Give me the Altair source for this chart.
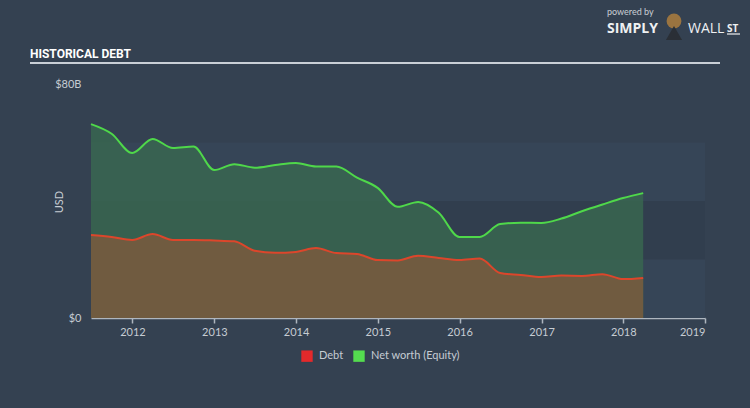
import altair as alt
import pandas as pd

# ---------------- data ----------------
dates = ["2011-06-30", "2011-09-30", "2011-12-31", "2012-03-31", "2012-06-30", "2012-09-30",
         "2012-12-31", "2013-03-31", "2013-06-30", "2013-09-30", "2013-12-31", "2014-03-31",
         "2014-06-30", "2014-09-30", "2014-12-31", "2015-03-31", "2015-06-30", "2015-09-30",
         "2015-12-31", "2016-03-31", "2016-06-30", "2016-09-30", "2016-12-31", "2017-03-31",
         "2017-06-30", "2017-09-30", "2017-12-31", "2018-03-31"]
net_worth = [66.3, 63.0, 56.4, 61.2, 58.1, 58.6, 50.6, 52.6, 51.4, 52.3, 53.0, 51.8,
             51.8, 48.0, 44.5, 38.0, 39.7, 36.0, 27.7, 27.7, 32.1, 32.6, 32.5, 34.0,
             36.5, 38.8, 41.0, 42.7]
debt = [28.4, 27.7, 26.7, 28.7, 26.7, 26.7, 26.5, 26.2, 23.0, 22.3, 22.6, 23.9,
        22.2, 21.9, 19.8, 19.7, 21.3, 20.5, 19.8, 20.3, 15.4, 14.7, 14.0, 14.5,
        14.4, 15.0, 13.3, 13.7]
series_names = ["Debt", "Net worth (Equity)"]
light_band_lo = [0, 40]
light_band_hi = [20, 60]
dark_band_lo = [20]
dark_band_hi = [40]
y_tick_values = [0, 80]
x_tick_years = [2012, 2013, 2014, 2015, 2016, 2017, 2018, 2019]
title_text = ["HISTORICAL DEBT"]
y_title_text = ["USD"]
powered_text = ["powered by"]
simply_text = ["SIMPLY"]
wall_text = ["WALL"]
st_text = ["ST"]

# ---------------- styling ----------------
BG = "#344151"
LIGHT_BAND = "#364557"
DARK_BAND = "#313e4e"
GREEN_LINE = "#4fd84a"
GREEN_FILL = "#386650"
RED_LINE = "#dc462b"
DEBT_FILL = "#705b40"
LEG_RED = "#e4292b"
LEG_GREEN = "#54dc4f"
TXT = "#c6ccd3"
FONT = "Lato"
TITLE_FONT = "Roboto"
W, H = 614, 234

df = pd.DataFrame({"date": dates, "networth": net_worth, "debt": debt})
long_df = pd.DataFrame({
    "date": dates + dates,
    "series": [series_names[0]] * len(dates) + [series_names[1]] * len(dates),
    "value": debt + net_worth,
})
light_bands = pd.DataFrame({"lo": light_band_lo, "hi": light_band_hi})
dark_bands = pd.DataFrame({"lo": dark_band_lo, "hi": dark_band_hi})

x_scale = alt.Scale(
    type="utc",
    domain=[alt.DateTime(year=2011, month=6, date=30, utc=True),
            alt.DateTime(year=2019, month=1, date=1, utc=True)],
    nice=False,
)
y_scale = alt.Scale(domain=[0, 80], nice=False)

x_axis = alt.Axis(
    values=[alt.DateTime(year=yy, month=1, date=1, utc=True) for yy in x_tick_years],
    labelExpr="utcFormat(datum.value, '%Y')",
    title=None, grid=False, domainColor="#aeb6bf", domainWidth=1.5,
    tickColor="#aeb6bf", tickSize=5, tickWidth=1.5, labelColor=TXT, labelFontSize=11,
    labelFont=FONT, labelPadding=3,
)
y_axis = alt.Axis(
    values=y_tick_values,
    labelExpr="datum.value == 0 ? '$0' : '$' + datum.value + 'B'",
    title=None, grid=False, domain=False, ticks=False, labelColor=TXT,
    labelFontSize=11, labelFont=FONT, labelPadding=10,
)

dark = alt.Chart(dark_bands).mark_rect(color=DARK_BAND).encode(
    y=alt.Y("lo:Q", scale=y_scale, axis=y_axis), y2="hi:Q",
    x=alt.value(0), x2=alt.value(W))
light = alt.Chart(light_bands).mark_rect(color=LIGHT_BAND).encode(
    y=alt.Y("lo:Q", scale=y_scale, axis=y_axis), y2="hi:Q",
    x=alt.value(0), x2=alt.value(W))

green_area = alt.Chart(df).mark_area(
    interpolate="monotone", color=GREEN_FILL, opacity=0.85
).encode(
    x=alt.X("date:T", scale=x_scale, axis=x_axis),
    y=alt.Y("networth:Q", scale=y_scale, axis=y_axis),
)
green_line = alt.Chart(df).mark_line(
    interpolate="monotone", color=GREEN_LINE, strokeWidth=2
).encode(x=alt.X("date:T", scale=x_scale, axis=x_axis),
         y=alt.Y("networth:Q", scale=y_scale, axis=y_axis))

debt_area = alt.Chart(df).mark_area(
    interpolate="monotone", color=DEBT_FILL, opacity=1
).encode(x=alt.X("date:T", scale=x_scale, axis=x_axis),
         y=alt.Y("debt:Q", scale=y_scale, axis=y_axis))
debt_line = alt.Chart(df).mark_line(
    interpolate="monotone", color=RED_LINE, strokeWidth=2
).encode(x=alt.X("date:T", scale=x_scale, axis=x_axis),
         y=alt.Y("debt:Q", scale=y_scale, axis=y_axis))

legend_layer = alt.Chart(long_df).transform_filter("datum.value < 0").mark_square(
    filled=True, opacity=1
).encode(
    x=alt.X("date:T", scale=x_scale, axis=x_axis),
    y=alt.Y("value:Q", scale=y_scale, axis=y_axis),
    color=alt.Color(
        "series:N",
        scale=alt.Scale(domain=series_names, range=[LEG_RED, LEG_GREEN]),
        legend=alt.Legend(
            orient="none", legendX=210, legendY=266, direction="horizontal",
            title=None, symbolType="square", symbolSize=130, symbolStrokeWidth=0,
            symbolOpacity=1, labelFontSize=11, labelFont=FONT, labelColor=TXT,
            columnPadding=9, labelOffset=6,
        ),
    ),
)

def text_layer(values, **kw):
    return alt.Chart(pd.DataFrame({"t": values})).mark_text(**kw).encode(text="t:N")

title = text_layer(title_text, x=-61, y=-26, align="left", baseline="alphabetic",
                   font=TITLE_FONT, fontWeight="bold", fontSize=12,
                   color="#ffffff")
title_rule = alt.Chart(pd.DataFrame({"t": title_text})).mark_rule(
    color="#c9cfd6", strokeWidth=2
).encode(x=alt.value(-61), x2=alt.value(629), y=alt.value(-21))
y_title = text_layer(y_title_text, x=-31, y=118, angle=270, align="center",
                     baseline="middle", font=FONT, fontSize=11, color=TXT)
powered = text_layer(powered_text, x=516, y=-69, align="left", baseline="alphabetic",
                     font=FONT, fontSize=9, color="#c9ced4")
simply = text_layer(simply_text, x=516, y=-51, align="left", baseline="alphabetic",
                    font="Open Sans", fontWeight="bold", fontSize=14, color="#eef0f2")
logo = alt.Chart(pd.DataFrame({"t": simply_text})).mark_point(
    filled=True, shape="circle", color="#9a7440", size=220, opacity=1
).encode(x=alt.value(583), y=alt.value(-63))
logo_body = alt.Chart(pd.DataFrame({"t": simply_text})).mark_point(
    filled=True, shape="triangle-up", color="#2a2f36", size=260, opacity=1
).encode(x=alt.value(583), y=alt.value(-51))
wall = text_layer(wall_text, x=597, y=-51, align="left", baseline="alphabetic",
                  font="Open Sans", fontSize=14, color="#eef0f2")
st = text_layer(st_text, x=636, y=-52, align="left", baseline="alphabetic",
                font="Open Sans", fontWeight="bold", fontSize=10, color="#eef0f2")
st_rule = alt.Chart(pd.DataFrame({"t": st_text})).mark_rule(
    color="#eef0f2", strokeWidth=1.2
).encode(x=alt.value(636), x2=alt.value(649), y=alt.value(-50))

chart = alt.layer(
    dark, light, green_area, green_line, debt_area, debt_line, legend_layer,
    title, title_rule, y_title, powered, simply, logo, logo_body, wall, st, st_rule,
).properties(
    width=W, height=H,
    autosize=alt.AutoSizeParams(type="none"),
    padding={"left": 91, "top": 84, "right": 45, "bottom": 90},
    background=BG,
).configure_view(stroke=None)

chart.save("out.html", embed_options={"renderer": "svg", "actions": False})
